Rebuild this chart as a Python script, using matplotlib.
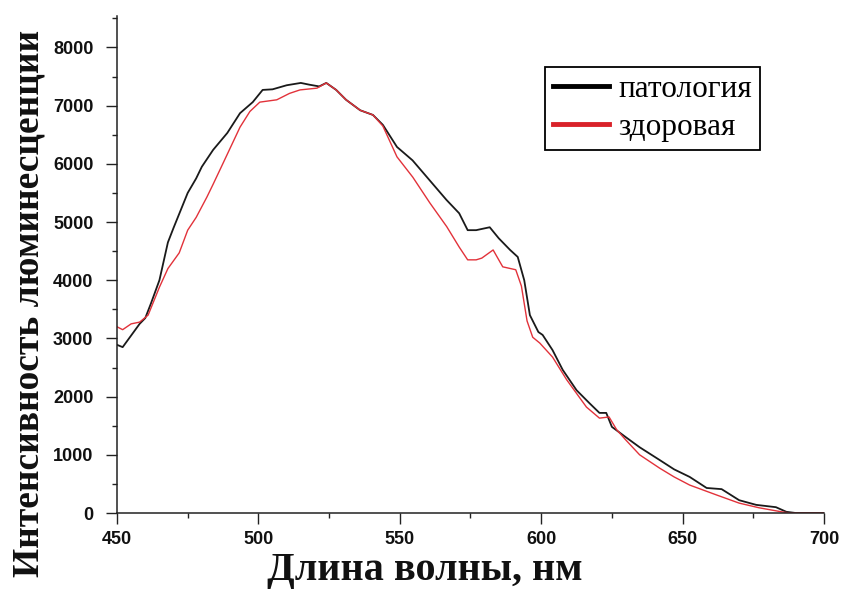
import numpy as np
import matplotlib.pyplot as plt
from matplotlib.ticker import MultipleLocator

# патология (black)
wl_pat = [450, 452, 455, 458, 460, 462, 465, 468, 470, 473, 475, 478, 480, 484, 489,
          493.5, 498, 501.5, 505, 510, 515, 518, 521.5, 524, 527.5, 531, 536, 540.5,
          544, 549, 554.5, 560.5, 566.5, 571, 574, 577, 581.8, 585, 589, 591.7, 594,
          596, 599, 600.5, 604, 607.6, 612.5, 617, 620.6, 623, 625, 630, 634.8, 641.9,
          647, 652.5, 658.5, 663.8, 670, 676, 683, 686.7, 690, 700]
int_pat = [2890, 2850, 3050, 3250, 3350, 3600, 4000, 4650, 4900, 5260, 5500, 5750, 5950,
           6240, 6530, 6870, 7060, 7270, 7280, 7350, 7390, 7360, 7330, 7390, 7270, 7100,
           6920, 6840, 6670, 6290, 6060, 5720, 5380, 5150, 4860, 4860, 4910, 4720, 4520,
           4400, 4000, 3400, 3110, 3060, 2800, 2460, 2110, 1890, 1720, 1720, 1480, 1300,
           1130, 910, 750, 620, 430, 410, 220, 140, 100, 20, 0, 0]

# здоровая (red)
wl_zd = [450, 452, 455, 458, 461, 465, 468, 472, 475, 478, 481.8, 484, 487.5, 493.5, 497,
         500.5, 506.5, 511, 514.7, 520.7, 524, 527.5, 531, 536, 540.5, 544, 549, 554.6,
         560.6, 566.6, 571, 574, 577, 579, 583, 586.4, 591, 593, 595, 597, 599.5, 604,
         609, 616, 620.6, 624, 626.7, 630, 634.8, 641.9, 647, 652.5, 662, 670, 677, 685,
         688, 700]
int_zd = [3200, 3150, 3250, 3280, 3400, 3880, 4200, 4470, 4860, 5080, 5430, 5650, 6010,
          6630, 6900, 7060, 7100, 7210, 7270, 7300, 7390, 7270, 7100, 6920, 6840, 6650,
          6120, 5770, 5330, 4920, 4570, 4350, 4350, 4380, 4520, 4230, 4180, 3900, 3300,
          3020, 2920, 2680, 2290, 1820, 1630, 1650, 1430, 1250, 1000, 770, 620, 480, 310,
          170, 90, 20, 0, 0]

labels = ['патология', 'здоровая']

W, H = 844, 590
fig = plt.figure(figsize=(W / 100, H / 100), dpi=100)
ax = fig.add_axes([117 / W, 1 - 513 / H, (824 - 117) / W, (513 - 16) / H])

ax.plot(wl_pat, int_pat, color='#1a1a1a', lw=1.3, label=labels[0])
ax.plot(wl_zd, int_zd, color='#e2323a', lw=1.0, label=labels[1])

ax.set_xlim(450, 700)
ax.set_ylim(0, 8540)
ax.xaxis.set_major_locator(MultipleLocator(50))
ax.xaxis.set_minor_locator(MultipleLocator(25))
ax.yaxis.set_major_locator(MultipleLocator(1000))
ax.yaxis.set_minor_locator(MultipleLocator(500))

for s in ['top', 'right']:
    ax.spines[s].set_visible(False)
for s in ['left', 'bottom']:
    ax.spines[s].set_linewidth(1.1)
    ax.spines[s].set_color('#222222')

ax.tick_params(which='major', length=8, width=1, direction='out', colors='#222222')
ax.tick_params(which='minor', length=3.5, width=1, direction='out', colors='#222222')
ax.tick_params(axis='x', which='major', pad=5)
ax.tick_params(axis='y', which='major', pad=9)
for t in ax.get_xticklabels() + ax.get_yticklabels():
    t.set_fontfamily('Liberation Sans')
    t.set_fontweight('bold')
    t.set_fontsize(13)
    t.set_color('#111111')

# axis titles placed like in the source picture
fig.text(425 / W, 1 - 580 / H, 'Длина волны, нм', family='Liberation Serif',
         weight='bold', fontsize=29, ha='center', va='baseline', color='#111111')
fig.text(29 / W, 1 - 303 / H, 'Интенсивность люминесценции', family='Liberation Serif',
         weight='bold', fontsize=27, rotation=90, ha='center', va='center',
         color='#111111')

leg_handles = [plt.Line2D([], [], color='black', lw=3.5),
               plt.Line2D([], [], color='#d9222a', lw=3.5)]
leg = fig.legend(leg_handles, labels, loc='upper left',
                 bbox_to_anchor=(545 / W, 1 - 67 / H),
                 prop={'family': 'Liberation Serif', 'size': 22.5},
                 frameon=True, fancybox=False, edgecolor='black', framealpha=1,
                 handlelength=1.8, handletextpad=0.3, labelspacing=0.3,
                 borderpad=0.25, borderaxespad=0)
leg.get_frame().set_linewidth(1.3)

plt.savefig('out.png', dpi=100)
